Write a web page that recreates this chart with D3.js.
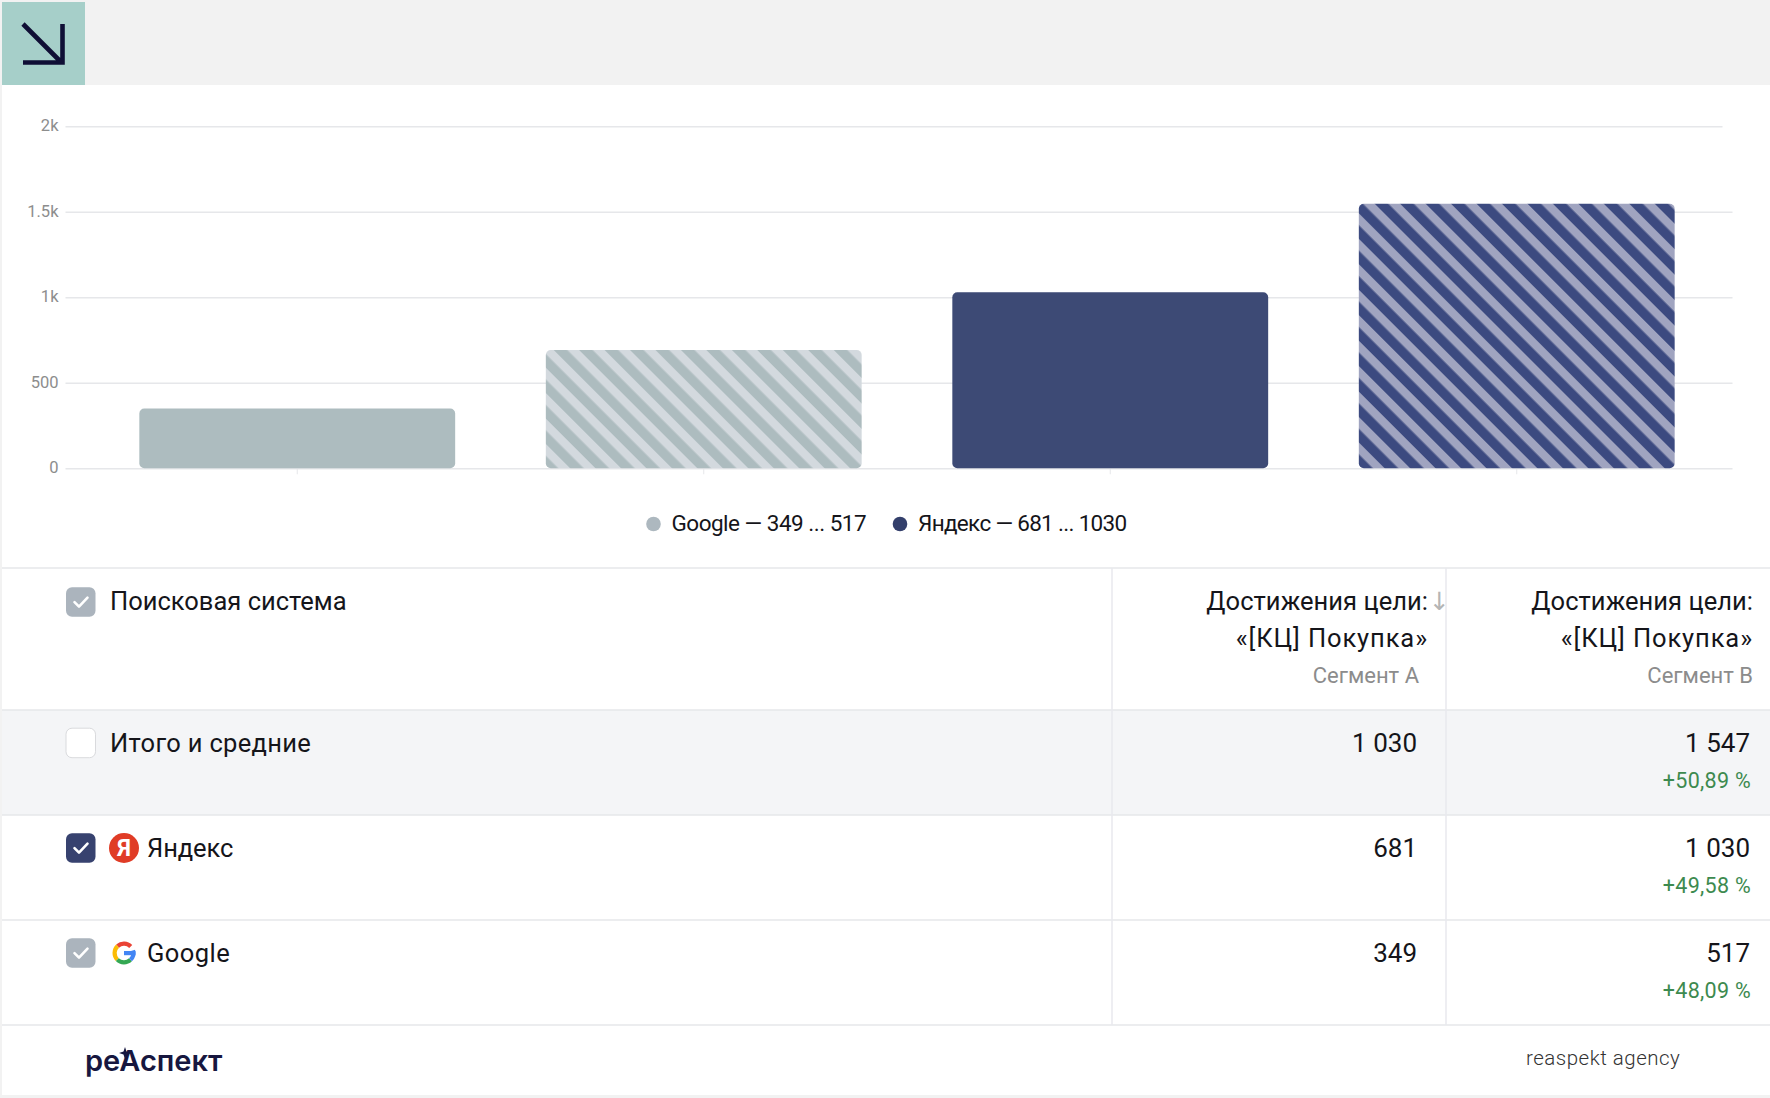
<!DOCTYPE html>
<html lang="ru">
<head>
<meta charset="utf-8">
<script src="https://d3js.org/d3.v7.min.js"></script>
<style>
html,body{margin:0;padding:0;background:#f2f2f2;overflow:hidden}
svg{display:block}
text{font-family:Roboto,"Noto Sans",sans-serif}
</style>
</head>
<body>
<svg id="c" width="1770" height="1098"></svg>
<script>
// ---- data ----
const barKeys = ["Google A", "Google B", "Yandex A", "Yandex B"];
const barValues = [349, 692, 1030, 1547];
const barSeries = ["google", "google", "yandex", "yandex"];
const barStriped = [false, true, false, true];
const yTicks = [0, 500, 1000, 1500, 2000];
const yTickLabels = ["0", "500", "1k", "1.5k", "2k"];
const legendNames = ["Google — 349 ... 517", "Яндекс — 681 ... 1030"];
const legendSeries = ["google", "yandex"];
const headerName = "Поисковая система";
const headerMetric = ["Достижения цели:", "«[КЦ] Покупка»"];
const segmentNames = ["Сегмент А", "Сегмент В"];
const rowNames = ["Итого и средние", "Яндекс", "Google"];
const rowChecks = ["none", "yandex", "google"];
const segmentA = [1030, 681, 349];
const segmentB = [1547, 1030, 517];
const deltas = ["+50,89 %", "+49,58 %", "+48,09 %"];

// ---- styles ----
const W = 1770, H = 1098;
const solid = { google: "#adbcbf", yandex: "#3d4a75" };
const stripeDark = { google: "#adbcbf", yandex: "#3c4a80" };
const stripeLight = { google: "#d3d9de", yandex: "#a0a4c0" };
const dot = { google: "#adb8bf", yandex: "#333f6b" };
const check = { google: "#abb4bd", yandex: "#37426f" };
const line = "#e6e7ea", vline = "#e8e9ee", ink = "#15151a", grey = "#8c8c8c", green = "#3d8a4f";

const svg = d3.select("#c");
const defs = svg.append("defs");
Object.keys(solid).forEach(k => {
  const p = defs.append("pattern").attr("id", "st-" + k)
    .attr("patternUnits", "userSpaceOnUse").attr("width", 18).attr("height", 18)
    .attr("patternTransform", "rotate(-45)");
  p.append("rect").attr("width", 18).attr("height", 18).attr("fill", stripeLight[k]);
  p.append("rect").attr("width", 9.6).attr("height", 18).attr("fill", stripeDark[k]);
});

// page
svg.append("rect").attr("x", 2).attr("y", 85).attr("width", W - 2).attr("height", H - 88).attr("fill", "#fff");
svg.append("rect").attr("x", 2).attr("y", 2).attr("width", 83).attr("height", 83).attr("fill", "#a6cfc9");
svg.append("path").attr("d", "M23 24L60 61M62.5 24V62.5H23").attr("fill", "none")
  .attr("stroke", "#0f0f35").attr("stroke-width", 4.6);

// ---- chart ----
const y = d3.scaleLinear().domain([0, 2000]).range([468.3, 126.3]);
const x = d3.scaleBand().domain(barKeys).range([94, 1720]).paddingInner(0.223).paddingOuter(0.1115);

const gy = svg.append("g").attr("transform", "translate(65.5,0)")
  .call(d3.axisLeft(y).tickValues(yTicks).tickSize(0).tickPadding(7)
    .tickFormat((d, i) => yTickLabels[i]));
gy.select(".domain").remove();
gy.selectAll("text").attr("font-size", 16.5).attr("fill", "#8d8d8d").attr("dy", "0.26em").style("font-family", "Roboto");
gy.selectAll(".tick").append("line")
  .attr("x1", 0).attr("x2", d => d === 2000 ? 1657 : 1667)
  .attr("stroke", line).attr("stroke-width", 1.5);

const gx = svg.append("g").attr("transform", "translate(0,468.3)")
  .call(d3.axisBottom(x).tickSize(6).tickFormat(""));
gx.select(".domain").remove();
gx.selectAll("line").attr("stroke", line);

svg.append("g").selectAll("rect").data(barValues).join("rect")
  .attr("x", (d, i) => x(barKeys[i]))
  .attr("width", x.bandwidth())
  .attr("y", d => y(d))
  .attr("height", d => y(0) - y(d))
  .attr("rx", 5)
  .attr("fill", (d, i) => barStriped[i] ? `url(#st-${barSeries[i]})` : solid[barSeries[i]]);

// legend
const lgX = [653.5, 900];
legendNames.forEach((t, i) => {
  svg.append("circle").attr("cx", lgX[i]).attr("cy", 524).attr("r", 7.3).attr("fill", dot[legendSeries[i]]);
  svg.append("text").attr("x", lgX[i] + 18).attr("y", 531).attr("font-size", 22.5)
    .attr("letter-spacing", i ? -0.68 : -0.5).attr("fill", ink).text(t);
});

// ---- table ----
const rowTop = [710, 815, 920];
const rowH = 105;
svg.append("rect").attr("x", 2).attr("y", rowTop[0]).attr("width", W - 2).attr("height", rowH).attr("fill", "#f4f5f7");
[568, 710, 815, 920, 1025].forEach(v => svg.append("line").attr("x1", 2).attr("x2", W).attr("y1", v).attr("y2", v)
  .attr("stroke", line).attr("stroke-width", 1.5));
[1112, 1446].forEach(v => svg.append("line").attr("x1", v).attr("x2", v).attr("y1", 568).attr("y2", 1025)
  .attr("stroke", vline).attr("stroke-width", 1.5));

function checkbox(cy, kind) {
  const g = svg.append("g").attr("transform", `translate(66,${cy - 14.8})`);
  g.append("rect").attr("width", 29.5).attr("height", 29.5).attr("rx", 6)
    .attr("fill", kind === "none" ? "#fff" : check[kind])
    .attr("stroke", kind === "none" ? "#d9dadd" : "none");
  if (kind !== "none") g.append("path").attr("d", "M8.5 15L13 19.5L21.5 10.5").attr("fill", "none")
    .attr("stroke", "#fff").attr("stroke-width", 2.6).attr("stroke-linecap", "round").attr("stroke-linejoin", "round");
}
const col = { a: 1417, b: 1750 };

checkbox(602, "google");
svg.append("text").attr("x", 110).attr("y", 610).attr("font-size", 25.5).attr("fill", ink).text(headerName);
const hdrRight = [1428, 1753], segRight = [1419, 1753];
const hdrSpacing = [0.05, 0.9];
hdrRight.forEach((r, c) => {
  headerMetric.forEach((t, i) => svg.append("text").attr("x", r).attr("y", 610 + i * 37)
    .attr("text-anchor", "end").attr("font-size", 25.5).attr("letter-spacing", hdrSpacing[i]).attr("fill", ink).text(t));
  svg.append("text").attr("x", segRight[c]).attr("y", 683).attr("text-anchor", "end")
    .attr("font-size", 22).attr("fill", grey).text(segmentNames[c]);
});
svg.append("text").attr("x", 1450).attr("y", 610).attr("text-anchor", "end").attr("font-size", 25)
  .style("font-family", "DejaVu Sans").attr("fill", "#b5b5b5").text("↓");

const fmt = d3.formatLocale({ thousands: " ", grouping: [3], decimal: ",", currency: ["", ""] }).format(",");
const nameSpacing = [0.32, -0.1, 0.45];
rowNames.forEach((n, i) => {
  const t = rowTop[i];
  checkbox(t + 33, rowChecks[i]);
  svg.append("text").attr("x", i === 0 ? 110 : 147).attr("y", t + 42).attr("font-size", 25.5)
    .attr("letter-spacing", nameSpacing[i]).attr("fill", ink).text(n);
  svg.append("text").attr("x", col.a).attr("y", t + 42).attr("text-anchor", "end").attr("font-size", 26).attr("fill", ink).text(fmt(segmentA[i]));
  svg.append("text").attr("x", col.b).attr("y", t + 42).attr("text-anchor", "end").attr("font-size", 26).attr("fill", ink).text(fmt(segmentB[i]));
  svg.append("text").attr("x", col.b + 1).attr("y", t + 77.5).attr("text-anchor", "end").attr("font-size", 21.5)
    .attr("letter-spacing", 0.3).attr("fill", green).text(deltas[i]);
});

// yandex icon
const yi = svg.append("g").attr("transform", `translate(124,${rowTop[1] + 33})`);
yi.append("circle").attr("r", 15).attr("fill", "#e03c26");
yi.append("text").attr("text-anchor", "middle").attr("y", 8).attr("font-size", 23).attr("font-weight", 700)
  .attr("fill", "#fff").text("Я");

// google icon
const gi = svg.append("g").attr("transform", `translate(124,${rowTop[2] + 33})`);
const arc = d3.arc().innerRadius(7.3).outerRadius(11.5);
[["#ea4335", -0.75, 0.8], ["#fbbc05", -2.35, -0.75], ["#34a853", -3.9, -2.35], ["#4285f4", -5.0, -3.9]].forEach(s =>
  gi.append("path").attr("d", arc({ startAngle: s[1], endAngle: s[2] })).attr("fill", s[0]));
gi.append("rect").attr("x", 0).attr("y", -2).attr("width", 11.5).attr("height", 4.2).attr("fill", "#4285f4");

// footer
svg.append("text").attr("x", 85).attr("y", 1071).attr("font-size", 29).attr("font-weight", 600)
  .style("font-family", "Inter").attr("fill", "#17173f").text("реАспект");
svg.append("path").attr("d", "M125 1047l1.5 4.5 4.5 1.5-4.5 1.5-1.5 4.5-1.5-4.5-4.5-1.5 4.5-1.5z").attr("fill", "#17173f");
svg.append("text").attr("x", 1526).attr("y", 1065).attr("font-size", 20.5).attr("font-weight", 300)
  .attr("letter-spacing", 0.5).attr("fill", "#333").text("reaspekt agency");
</script>
</body>
</html>
